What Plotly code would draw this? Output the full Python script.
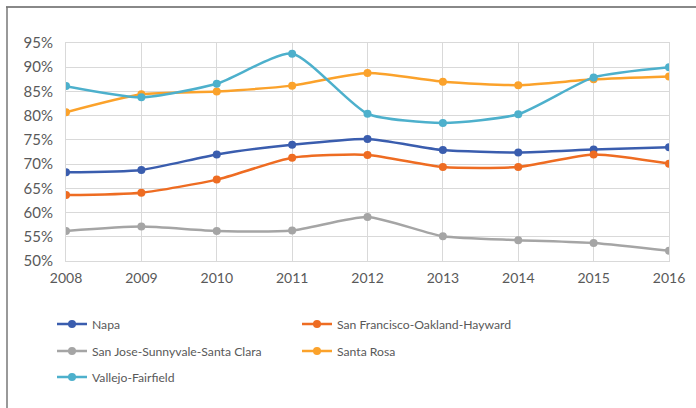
import plotly.graph_objects as go

years = [2008, 2009, 2010, 2011, 2012, 2013, 2014, 2015, 2016]
napa = [68.3, 68.8, 72.0, 74.0, 75.2, 72.9, 72.4, 73.0, 73.5]
sf = [63.6, 64.1, 66.8, 71.3, 71.9, 69.4, 69.4, 72.0, 70.1]
sj = [56.2, 57.1, 56.2, 56.3, 59.1, 55.1, 54.3, 53.7, 52.1]
santa_rosa = [80.7, 84.4, 85.0, 86.2, 88.8, 87.0, 86.3, 87.5, 88.1]
vallejo = [86.1, 83.8, 86.6, 92.8, 80.4, 78.5, 80.3, 87.9, 90.0]

names = ["Napa", "San Francisco-Oakland-Hayward", "San Jose-Sunnyvale-Santa Clara",
         "Santa Rosa", "Vallejo-Fairfield"]
series = [napa, sf, sj, santa_rosa, vallejo]
colors = ["#3A5DAE", "#EE6C22", "#A5A5A5", "#FBA22B", "#4DB0CC"]
legend_ids = ["legend", "legend", "legend2", "legend2", "legend3"]

FONT = "Lato, 'Open Sans', sans-serif"
TXT = "#595959"

fig = go.Figure()
for name, vals, col, lg in zip(names, series, colors, legend_ids):
    fig.add_trace(go.Scatter(
        x=years, y=vals, name=name, mode="lines+markers",
        line=dict(color=col, width=2.5, shape="spline", smoothing=0.6),
        marker=dict(color=col, size=8),
        legend=lg,
    ))

L, R, T, B = 66, 27, 43, 147
W, H = 696, 408
pw, ph = W - L - R, H - T - B

def px_x(p):
    return (p - L) / pw

def px_y(p):
    return (H - B - p) / ph

legend_common = dict(
    orientation="h", xanchor="left", yanchor="middle",
    xref="container", yref="container",
    font=dict(family=FONT, size=12.2, color=TXT),
    bgcolor="rgba(0,0,0,0)", entrywidth=200, entrywidthmode="pixels",
    itemwidth=30,
)

fig.update_layout(
    width=W, height=H,
    margin=dict(l=L, r=R, t=T, b=B, autoexpand=False),
    paper_bgcolor="white", plot_bgcolor="white",
    font=dict(family=FONT, size=13, color=TXT),
    showlegend=True,
    legend=dict(x=52 / W, y=1 - 324 / H, **legend_common),
    legend2=dict(x=52 / W, y=1 - 351 / H, **legend_common),
    legend3=dict(x=52 / W, y=1 - 377 / H, **legend_common),
    xaxis=dict(
        range=[2008, 2016], tickvals=years, ticktext=[str(y) for y in years],
        showgrid=True, gridcolor="#D9D9D9", gridwidth=1,
        showline=True, linecolor="#D9D9D9", linewidth=1, mirror=True,
        zeroline=False, ticks="", ticklabelstandoff=4, automargin=False,
        tickfont=dict(size=14, color=TXT),
    ),
    yaxis=dict(
        range=[50, 95], dtick=5, ticksuffix="%",
        showgrid=True, gridcolor="#D9D9D9", gridwidth=1,
        showline=True, linecolor="#D9D9D9", linewidth=1, mirror=True,
        zeroline=False, ticks="", ticklabelstandoff=9, automargin=False,
        tickfont=dict(size=15, color=TXT),
    ),
    shapes=[
        dict(type="line", xref="paper", yref="paper",
             x0=px_x(6), x1=px_x(700), y0=px_y(7), y1=px_y(7),
             line=dict(color="#888888", width=2)),
        dict(type="line", xref="paper", yref="paper",
             x0=px_x(7), x1=px_x(7), y0=px_y(7), y1=px_y(420),
             line=dict(color="#777777", width=1.5)),
    ],
)

fig.write_html("out.html", config={"displayModeBar": False},
               post_script="document.body.style.margin='0px';document.body.style.overflow='hidden';")
